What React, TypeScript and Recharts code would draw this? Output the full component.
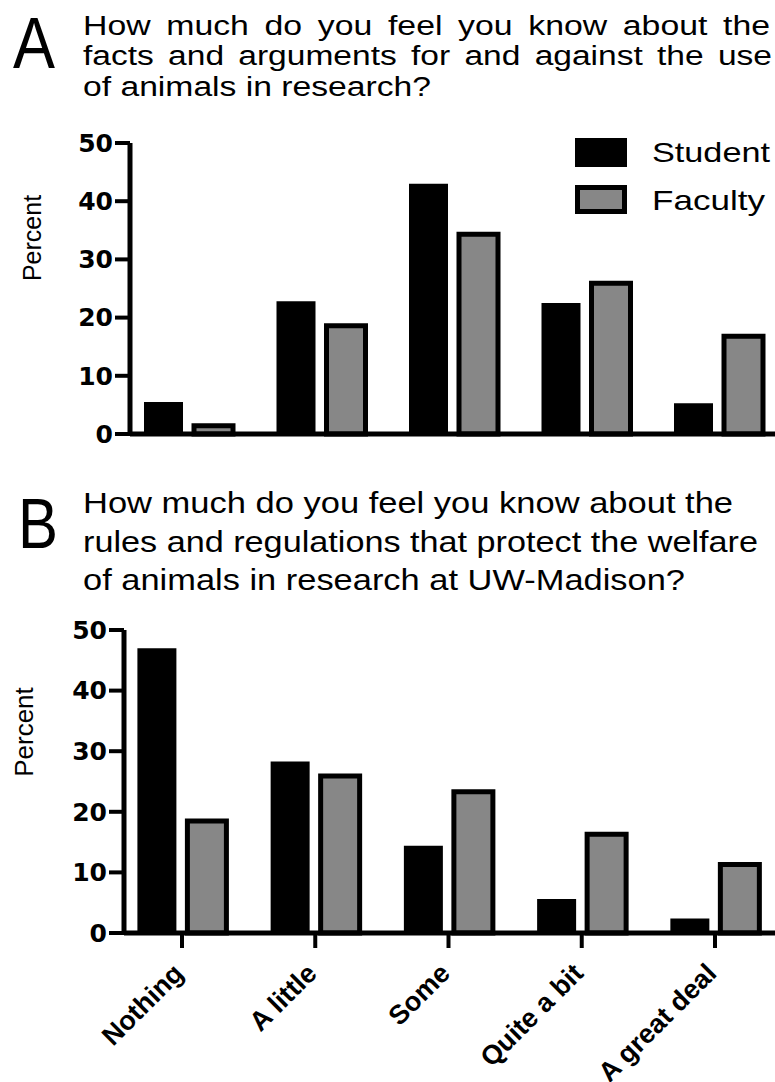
import { BarChart, Bar, XAxis, YAxis, Legend } from "recharts";

const categories = ["Nothing", "A little", "Some", "Quite a bit", "A great deal"];
const yTicks = [0, 10, 20, 30, 40, 50];
const seriesNames = ["Student", "Faculty"];

// panel A - facts and arguments
const studentFacts = [5.5, 22.8, 43.0, 22.5, 5.3];
const facultyFacts = [1.4, 18.6, 34.3, 25.9, 16.8];

// panel B - rules and regulations
const studentRules = [47.0, 28.3, 14.4, 5.6, 2.4];
const facultyRules = [18.5, 25.9, 23.3, 16.3, 11.3];

const titleA = [
  "How much do you feel you know about the",
  "facts and arguments for and against the use",
  "of animals in research?",
];
const titleB = [
  "How much do you feel you know about the",
  "rules and regulations that protect the welfare",
  "of animals in research at UW-Madison?",
];

const FONT = "'Liberation Sans', Arial, sans-serif";
const GRAY = "#878787";

const toRows = (student: number[], faculty: number[]) =>
  categories.map((c, i) => ({ category: c, student: student[i], faculty: faculty[i] }));

const renderLegend = () => (
  <svg width={200} height={80}>
    <rect x={0} y={0} width={52} height={29} fill="#000" />
    <text x={77} y={24} fontSize={28} fontFamily={FONT} textLength={118} lengthAdjust="spacingAndGlyphs">
      {seriesNames[0]}
    </text>
    <rect x={2.5} y={49.5} width={47} height={24} fill={GRAY} stroke="#000" strokeWidth={5} />
    <text x={77} y={72} fontSize={28} fontFamily={FONT} textLength={113} lengthAdjust="spacingAndGlyphs">
      {seriesNames[1]}
    </text>
  </svg>
);

const renderCategoryTick = ({ x, y, payload }: any) => (
  <g transform={`translate(${x + 3},${y + 25}) rotate(-45)`}>
    <text x={0} y={0} textAnchor="end" fontSize={27} fontWeight="bold" fontFamily={FONT} fill="#000">
      {payload.value}
    </text>
  </g>
);

type PanelProps = {
  student: number[];
  faculty: number[];
  height: number;
  marginTop: number;
  marginBottom: number;
  axisX: number;
  padLeft: number;
  padRight: number;
  xAxisHeight: number;
  showLabels?: boolean;
  showLegend?: boolean;
};

function Panel(p: PanelProps) {
  return (
    <BarChart
      width={775}
      height={p.height}
      data={toRows(p.student, p.faculty)}
      margin={{ top: p.marginTop, right: 0, left: 0, bottom: p.marginBottom }}
      barSize={39}
      barGap={11}
    >
      <XAxis
        dataKey="category"
        height={p.xAxisHeight}
        interval={0}
        padding={{ left: p.padLeft, right: p.padRight }}
        axisLine={{ stroke: "#000", strokeWidth: 5 }}
        tickLine={{ stroke: "#000", strokeWidth: 4 }}
        tickSize={15}
        tick={p.showLabels ? renderCategoryTick : false}
      />
      <YAxis
        width={p.axisX}
        domain={[0, 50]}
        ticks={yTicks}
        interval={0}
        axisLine={{ stroke: "#000", strokeWidth: 5 }}
        tickLine={{ stroke: "#000", strokeWidth: 4 }}
        tickSize={15}
        tick={{ fill: "#000", fontSize: 25, fontWeight: "bold", fontFamily: "'DejaVu Sans', sans-serif" }}
      />
      {p.showLegend && (
        <Legend
          layout="vertical"
          align="center"
          verticalAlign="middle"
          content={renderLegend}
          wrapperStyle={{ position: "absolute", left: 575, top: 138, width: 200, height: 80 }}
        />
      )}
      <Bar dataKey="student" name={seriesNames[0]} fill="#000" isAnimationActive={false} />
      <Bar dataKey="faculty" name={seriesNames[1]} fill={GRAY} stroke="#000" strokeWidth={5} isAnimationActive={false} />
    </BarChart>
  );
}

export default function App() {
  return (
    <div style={{ position: "absolute", left: 0, top: 0, width: 775, height: 1082, overflow: "hidden", background: "#fff" }}>
      <div style={{ position: "absolute", left: 0, top: 0 }}>
        <Panel
          student={studentFacts}
          faculty={facultyFacts}
          height={480}
          marginTop={143}
          marginBottom={6}
          axisX={130}
          padLeft={-8}
          padRight={-9.5}
          xAxisHeight={40}
          showLegend
        />
      </div>
      <div style={{ position: "absolute", left: 0, top: 480 }}>
        <Panel
          student={studentRules}
          faculty={facultyRules}
          height={602}
          marginTop={150}
          marginBottom={9}
          axisX={124}
          padLeft={-8.6}
          padRight={-6.6}
          xAxisHeight={140}
          showLabels
        />
      </div>
      <svg width={775} height={1082} style={{ position: "absolute", left: 0, top: 0, pointerEvents: "none" }}>
        <g fontFamily={FONT} fill="#000">
          <text x={13} y={68} fontSize={73} textLength={42} lengthAdjust="spacingAndGlyphs">A</text>
          <text x={83} y={35} fontSize={27} wordSpacing={5} textLength={687} lengthAdjust="spacingAndGlyphs">{titleA[0]}</text>
          <text x={83} y={65} fontSize={27} wordSpacing={4} textLength={689} lengthAdjust="spacingAndGlyphs">{titleA[1]}</text>
          <text x={83} y={96} fontSize={27} textLength={348} lengthAdjust="spacingAndGlyphs">{titleA[2]}</text>
          <text x={32} y={238} fontSize={25} textAnchor="middle" dominantBaseline="central" transform="rotate(-90 32 238)">Percent</text>

          <text x={18} y={548} fontSize={70} textLength={40} lengthAdjust="spacingAndGlyphs">B</text>
          <text x={83} y={513} fontSize={29} textLength={650} lengthAdjust="spacingAndGlyphs">{titleB[0]}</text>
          <text x={83} y={552} fontSize={29} textLength={675} lengthAdjust="spacingAndGlyphs">{titleB[1]}</text>
          <text x={83} y={590} fontSize={29} textLength={602} lengthAdjust="spacingAndGlyphs">{titleB[2]}</text>
          <text x={24} y={732} fontSize={26} textAnchor="middle" dominantBaseline="central" transform="rotate(-90 24 732)">Percent</text>
        </g>
      </svg>
    </div>
  );
}
